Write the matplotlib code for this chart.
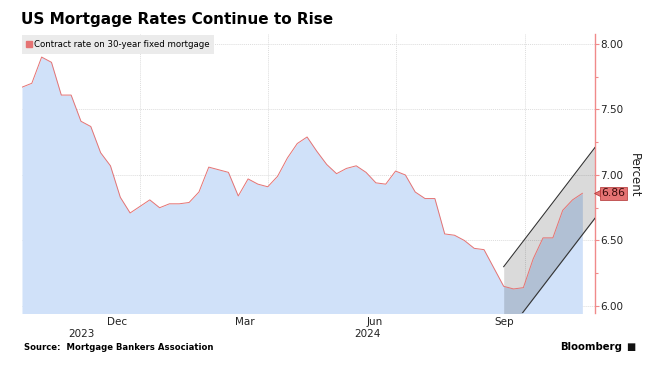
import numpy as np
import pandas as pd
import matplotlib
matplotlib.use("Agg")
import matplotlib.pyplot as plt
import matplotlib.transforms as mtransforms

# weekly MBA contract rate, 30-year fixed (week start dates)
dates = pd.date_range("2023-10-09", periods=58, freq="7D")
rate = [7.67, 7.70, 7.90, 7.86, 7.61, 7.61, 7.41, 7.37, 7.17, 7.07, 6.83, 6.71, 6.76,
        6.81, 6.75, 6.78, 6.78, 6.79, 6.87, 7.06, 7.04, 7.02, 6.84, 6.97, 6.93, 6.91,
        6.99, 7.13, 7.24, 7.29, 7.18, 7.08, 7.01, 7.05, 7.07, 7.02, 6.94, 6.93, 7.03,
        7.00, 6.87, 6.82, 6.82, 6.55, 6.54, 6.50, 6.44, 6.43, 6.29, 6.15, 6.13, 6.14,
        6.36, 6.52, 6.52, 6.73, 6.81, 6.86]

# rising channel drawn over the last weeks
channel_x = pd.to_datetime(["2024-09-16", "2024-11-20"])
channel_top = [6.30, 7.21]
channel_bottom = [5.76, 6.67]

month_labels = ["Dec", "Mar", "Jun", "Sep"]
month_label_dates = pd.to_datetime(["2023-12-16", "2024-03-16", "2024-06-16", "2024-09-16"])
grid_dates = pd.to_datetime(["2024-01-01", "2024-04-01", "2024-07-01", "2024-10-01"])
year_labels = ["2023", "2024"]
year_label_dates = pd.to_datetime(["2023-11-20", "2024-06-11"])
yticks = [6.00, 6.50, 7.00, 7.50, 8.00]

blue = "#d0e1f9"
red = "#e57373"
spine_red = "#f08a8a"

fig = plt.figure(figsize=(6.68, 3.65), dpi=100)
ax = fig.add_axes([0.0329, 0.1416, 0.8578, 0.7652])

ax.fill_between(dates, rate, 5.5, color=blue, lw=0, zorder=1)
ax.fill_between(channel_x, channel_top, channel_bottom, color="black", alpha=0.145, lw=0, zorder=2)
ax.plot(dates, rate, color=red, lw=0.7, zorder=3)
ax.plot(channel_x, channel_top, color="#333333", lw=0.8, zorder=4)
ax.plot(channel_x, channel_bottom, color="#333333", lw=0.8, zorder=4)

ax.set_xlim(pd.Timestamp("2023-10-09"), pd.Timestamp("2024-11-20"))
ax.set_ylim(5.944, 8.076)

# y axis on the right, red spine
for s in ["left", "top", "bottom"]:
    ax.spines[s].set_visible(False)
ax.spines["right"].set_color(spine_red)
ax.spines["right"].set_linewidth(1.0)
ax.yaxis.tick_right()
ax.set_yticks(yticks)
ax.set_yticklabels([f"{v:.2f}" for v in yticks])
ax.set_yticks(np.arange(6.25, 8.0, 0.5), minor=True)
ax.tick_params(axis="y", which="major", colors=spine_red, labelcolor="#222222",
               labelsize=7.5, length=3, width=0.8, direction="out", pad=1)
ax.tick_params(axis="y", which="minor", colors=spine_red, length=2, width=0.8, direction="out")

ax.set_xticks(month_label_dates)
ax.set_xticklabels(month_labels)
ax.set_xticks(grid_dates, minor=True)
ax.tick_params(axis="x", which="both", length=0, labelsize=7.5, labelcolor="#222222", pad=3)

ax.grid(axis="y", which="major", color="#dddddd", ls=(0, (1, 1)), lw=0.7, zorder=0)
ax.grid(axis="x", which="minor", color="#dddddd", ls=(0, (1, 1)), lw=0.7, zorder=0)
ax.set_axisbelow(True)

trans = mtransforms.blended_transform_factory(ax.transData, ax.transAxes)
for d, t in zip(year_label_dates, year_labels):
    ax.text(d, -0.074, t, transform=trans, ha="center", va="center", fontsize=7.5, color="#222222")

# last value tag
last = rate[-1]
ytrans = mtransforms.blended_transform_factory(ax.transAxes, ax.transData)
ax.plot([1.006], [last], marker="<", ms=5.5, color=red, mec="#b03030", mew=0.5,
        transform=ytrans, clip_on=False, zorder=6)
ax.text(1.011, last, f"{last:.2f}", transform=ytrans, ha="left", va="center",
        fontsize=7.8, color="#3a0a0a", zorder=7,
        bbox=dict(boxstyle="square,pad=0.15", fc=red, ec="#b03030", lw=0.5))

leg = ax.legend(loc="upper left", bbox_to_anchor=(0.0, 0.995), borderaxespad=0,
                handles=[plt.Line2D([], [], marker="s", ls="", color=red, ms=4.5)],
                labels=["Contract rate on 30-year fixed mortgage"],
                fontsize=6.2, frameon=True, fancybox=False, handlelength=0.6,
                handletextpad=0.25, borderpad=0.55)
leg.get_frame().set_facecolor("#ebebeb")
leg.get_frame().set_edgecolor("none")
leg.get_frame().set_alpha(1)

fig.text(0.950, 0.52, "Percent", rotation=270, ha="center", va="center", fontsize=8.5, color="#222222")
fig.text(0.031, 0.946, "US Mortgage Rates Continue to Rise", fontsize=11, fontweight="bold",
         ha="left", va="center", color="black")
fig.text(0.036, 0.0466, "Source:  Mortgage Bankers Association", fontsize=6.1, fontweight="bold",
         ha="left", va="center", color="black")
fig.text(0.932, 0.049, "Bloomberg", fontsize=7.3, fontweight="bold", ha="right", va="center", color="black")
fig.text(0.937, 0.049, "\u25a0", fontsize=7, ha="left", va="center", color="#111111")

fig.savefig("out.png", dpi=100)
